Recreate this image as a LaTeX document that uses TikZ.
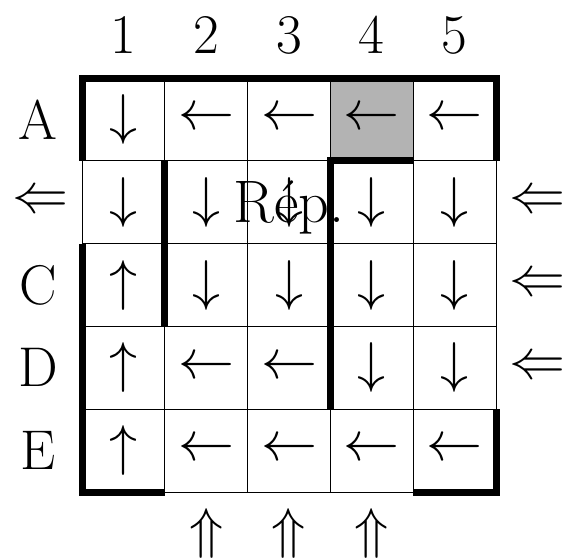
\RequirePackage{fix-cm}
\documentclass[tikz,border=0pt]{standalone}
\definecolor{cellgray}{RGB}{179,179,179}
\begin{document}
\begin{tikzpicture}[x=0.5pt,y=-0.5pt,
  lab/.style={font=\fontsize{28}{34}\selectfont, inner sep=0pt},
  arr/.style={font=\fontsize{28}{34}\selectfont, inner sep=0pt},
  wall/.style={line width=3.5pt},
  thinline/.style={line width=0.5pt}]
\useasboundingbox (0,0) rectangle (571,558);
% shaded cell A4
\fill[cellgray] (330.2,78) rectangle (413,160.8);
% grid
\foreach \i in {0,...,5} {
  \draw[thinline] ({82+82.8*\i},78) -- ({82+82.8*\i},492);
  \draw[thinline] (82,{78+82.8*\i}) -- (496,{78+82.8*\i});
}
% column labels
\foreach \c/\t in {1/1,2/2,3/3,4/4,5/5}
  \node[lab] (col\c) at ({82+82.8*(\c-0.5)},35) {\t};
% row labels
\node[lab] (rowA) at (38,{78+82.8*0.5}) {A};
\node[arr] (inB) at (40,{78+82.8*1.5}) {$\Leftarrow$};
\node[lab] (rowC) at (38,{78+82.8*2.5}) {C};
\node[lab] (rowD) at (38,{78+82.8*3.5}) {D};
\node[lab] (rowE) at (38,{78+82.8*4.5}) {E};
% right arrows
\foreach \r in {2,3,4}
  \node[arr] (right\r) at (537,{78+82.8*(\r-0.5)}) {$\Leftarrow$};
% bottom arrows
\foreach \c in {2,3,4}
  \node[arr] (bot\c) at ({82+82.8*(\c-0.5)},533) {$\Uparrow$};
% cell arrows
\foreach \r/\a/\b/\c/\d/\e in {
  1/\downarrow/\leftarrow/\leftarrow/\leftarrow/\leftarrow,
  2/\downarrow/\downarrow/\downarrow/\downarrow/\downarrow,
  3/\uparrow/\downarrow/\downarrow/\downarrow/\downarrow,
  4/\uparrow/\leftarrow/\leftarrow/\downarrow/\downarrow,
  5/\uparrow/\leftarrow/\leftarrow/\leftarrow/\leftarrow} {
  \node[arr] (c\r-1) at ({82+82.8*0.5},{78+82.8*(\r-0.5)}) {$\a$};
  \node[arr] (c\r-2) at ({82+82.8*1.5},{78+82.8*(\r-0.5)}) {$\b$};
  \node[arr] (c\r-3) at ({82+82.8*2.5},{78+82.8*(\r-0.5)}) {$\c$};
  \node[arr] (c\r-4) at ({82+82.8*3.5},{78+82.8*(\r-0.5)}) {$\d$};
  \node[arr] (c\r-5) at ({82+82.8*4.5},{78+82.8*(\r-0.5)}) {$\e$};
}
% walls
\draw[wall] (82,160.8) -- (82,78) -- (496,78) -- (496,160.8);
\draw[wall] (82,243.6) -- (82,492) -- (164.8,492);
\draw[wall] (413.2,492) -- (496,492) -- (496,409.2);
\draw[wall] (164.8,160.8) -- (164.8,326.4);
\draw[wall] (413.2,160.8) -- (330.4,160.8) -- (330.4,409.2);
% overlay text
\node[lab, font=\fontsize{30}{36}\selectfont, anchor=base] (rep) at (289,222) {Rép.};
\end{tikzpicture}
\end{document}
